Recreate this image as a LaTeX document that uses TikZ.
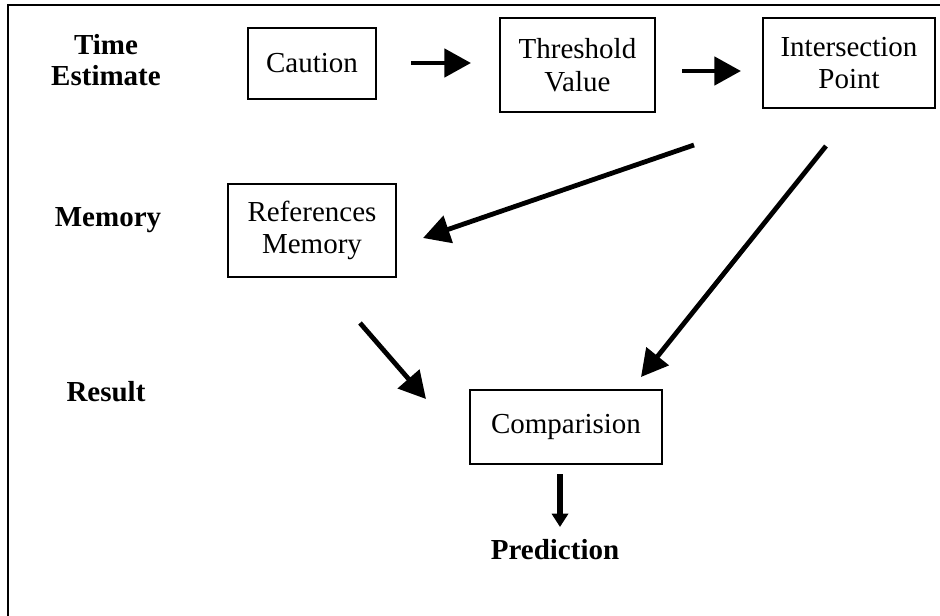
\documentclass[tikz,border=0pt]{standalone}
\usepackage{fontspec}
\setmainfont{Liberation Serif}
\usetikzlibrary{arrows.meta}
\begin{document}
\begin{tikzpicture}[x=0.75pt,y=-0.75pt,
  every node/.style={font=\fontsize{21.75pt}{24.5pt}\selectfont, inner sep=0pt, align=center},
  stepbox/.style={draw, line width=1.7pt},
  lbl/.style={font=\fontsize{21.75pt}{23.5pt}\selectfont\bfseries},
  bigarrow/.style={line width=3.6pt, -{Triangle[length=20pt,width=21pt]}},
  smallarrow/.style={line width=4.3pt, -{Triangle[length=10pt,width=12pt]}}
]
\useasboundingbox (0,0) rectangle (940,615);
\begin{scope}
\clip (0,0) rectangle (940,615);
\draw[line width=2pt] (8,630) -- (8,5) -- (950,5);
\end{scope}

% row labels
\node[lbl] (time) at (106,60) {Time\\Estimate};
\node[lbl] (mem) at (108,220) {Memory};
\node[lbl] (res) at (106,392) {Result};
\node[lbl, anchor=base] (pred) at (555,559) {Prediction};

% boxes
\node[stepbox, minimum width=96pt, minimum height=53.25pt] (caution) at (312,63.5) {Caution};
\node[stepbox, minimum width=116.25pt, minimum height=70.5pt] (thresh) at (577.5,65) {Threshold\\Value};
\node[stepbox, minimum width=129pt, minimum height=67.5pt] (inter) at (849,63) {Intersection\\Point};
\node[stepbox, minimum width=126pt, minimum height=69.75pt] (refs) at (312,230.5) {References\\Memory};
\node[stepbox, minimum width=144pt, minimum height=55.5pt] (comp) at (566,427) {Comparision};

% arrow end points
\coordinate (a1s) at (411,63);  \coordinate (a1e) at (471,63);
\coordinate (a2s) at (682,71);  \coordinate (a2e) at (741,71);
\coordinate (a3s) at (694,145); \coordinate (a3e) at (423,238);
\coordinate (a4s) at (826,146); \coordinate (a4e) at (641,377);
\coordinate (a5s) at (360,323); \coordinate (a5e) at (426,399);
\coordinate (a6s) at (560,474); \coordinate (a6e) at (560,527);

\draw[bigarrow] (a1s) -- (a1e);
\draw[bigarrow] (a2s) -- (a2e);
\draw[bigarrow] (a3s) -- (a3e);
\draw[bigarrow] (a4s) -- (a4e);
\draw[bigarrow] (a5s) -- (a5e);
\draw[smallarrow] (a6s) -- (a6e);
\end{tikzpicture}
\end{document}
